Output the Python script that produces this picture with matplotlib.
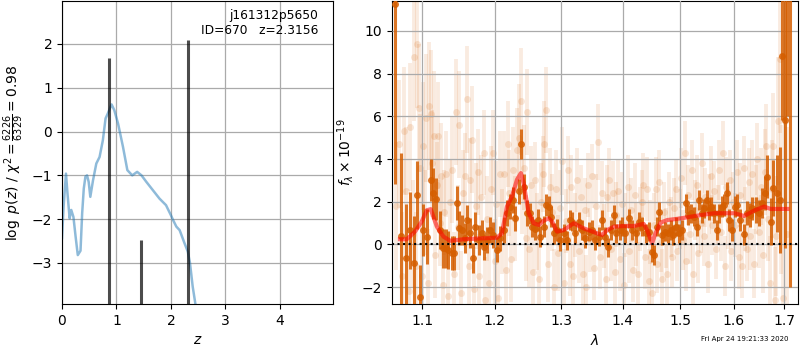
import numpy as np
import matplotlib
matplotlib.use("Agg")
import matplotlib.pyplot as plt

# ---------------- left panel: redshift PDF ----------------
z_curve = [0.0, 0.03, 0.073, 0.10, 0.14, 0.17, 0.21, 0.25, 0.29, 0.34, 0.37, 0.40, 0.43, 0.46,
           0.49, 0.52, 0.57, 0.63, 0.69, 0.75, 0.80, 0.84, 0.91, 0.96, 1.03, 1.12, 1.20, 1.29,
           1.38, 1.46, 1.55, 1.67, 1.79, 1.91, 2.00, 2.04, 2.10, 2.16, 2.25, 2.31, 2.35, 2.40,
           2.45, 2.50, 2.60]
logp_curve = [-2.43, -1.70, -0.96, -1.40, -1.98, -1.79, -1.95, -2.40, -2.82, -2.72, -1.87, -1.30,
              -1.03, -1.00, -1.15, -1.49, -1.11, -0.73, -0.58, -0.20, 0.30, 0.41, 0.62, 0.49,
              0.18, -0.35, -0.88, -1.00, -0.92, -1.00, -1.15, -1.34, -1.53, -1.68, -1.91, -2.02,
              -2.17, -2.25, -2.55, -2.74, -3.00, -3.54, -3.94, -4.40, -5.50]
spike_z = [0.868, 1.456, 2.305]
spike_top = [1.68, -2.48, 2.08]

# ---------------- right panel: spectrum ----------------
bin_wave = [1.0648, 1.0717, 1.0786, 1.0838, 1.0890, 1.0934, 1.0969, 1.1013, 1.1058, 1.1115,
            1.1147, 1.1182, 1.1237, 1.1273, 1.1314, 1.1350, 1.1396, 1.1428, 1.1465, 1.1501,
            1.1534, 1.1580, 1.1613, 1.1650, 1.1688, 1.1725, 1.1768, 1.1815, 1.1849, 1.1887,
            1.1934, 1.1982, 1.2031, 1.2079, 1.2128, 1.2177, 1.2226, 1.2266, 1.2300, 1.2350,
            1.2389, 1.2424, 1.2474, 1.2514, 1.2549, 1.2590, 1.2635, 1.2676, 1.2727, 1.2768,
            1.2804, 1.2840, 1.2881, 1.2933, 1.2985, 1.3037, 1.3090, 1.3132, 1.3169, 1.3222,
            1.3275, 1.3329, 1.3382, 1.3436, 1.3490, 1.3545, 1.3599, 1.3654, 1.3709, 1.3753,
            1.3809, 1.3848, 1.3892, 1.3948, 1.3993, 1.4043, 1.4100, 1.4157, 1.4214, 1.4271,
            1.4328, 1.4386, 1.4444, 1.4490, 1.4531, 1.4578, 1.4619, 1.4678, 1.4725, 1.4778,
            1.4826, 1.4873, 1.4927, 1.4975, 1.5036, 1.5096, 1.5139, 1.5187, 1.5249, 1.5298,
            1.5341, 1.5390, 1.5434, 1.5483, 1.5527, 1.5570, 1.5621, 1.5671, 1.5715, 1.5765,
            1.5810, 1.5861, 1.5905, 1.5957, 1.6014, 1.6066, 1.6118, 1.6195, 1.6261, 1.6313,
            1.6359, 1.6425, 1.6491, 1.6557, 1.6610, 1.6657, 1.6724, 1.6778, 1.6845, 1.6913,
            1.6947, 1.7009, 1.7060, 1.7120]
bin_flux = [11.25, 0.39, -0.63, 0.67, -0.85, 2.32, -2.46, 0.67, 0.36, 3.02,
            2.40, 2.12, 0.67, -0.19, -0.19, -0.27, -0.42, -0.39, 1.93, 0.75,
            0.67, 0.28, 1.14, 0.52, -0.63, 0.83, 0.20, 0.52, -0.11, 0.20,
            0.67, 0.44, -0.24, 0.28, 0.67, 1.46, 1.77, 2.08, 1.22, 2.48,
            4.72, 2.71, 1.46, 1.46, 0.83, 0.71, 1.14, 0.36, 0.83, 1.85,
            1.77, 1.30, 0.52, 0.67, 0.20, 0.52, 0.20, 1.14, 1.07, 0.52,
            1.07, 0.67, 0.28, 0.60, 0.67, 0.20, 0.36, 1.14, 0.36, -0.14,
            0.67, 1.38, 0.52, 0.67, 0.83, 0.52, 1.22, 0.67, 0.52, 1.07,
            0.83, 0.52, 0.60, -0.38, -0.50, 0.83, 1.54, 0.44, 0.60, 0.52,
            0.67, 0.44, 0.83, 0.52, 0.67, 1.93, 1.38, 1.46, 1.30, 0.83,
            2.08, 1.46, 1.69, 2.08, 1.61, 1.77, 1.46, 0.67, 1.46, 1.77,
            1.85, 2.40, 1.14, 0.67, 1.77, 1.85, 1.14, 0.47, 1.46, 1.38,
            1.69, 1.61, 1.46, 1.93, 2.40, 3.18, 1.07, 2.63, 2.40, 2.08,
            8.82, 5.85, 14.0, 12.0]
bin_err = [8.4, 3.9, 2.5, 1.8, 2.2, 1.6, 1.5, 1.2, 1.3, 1.0,
           1.2, 1.0, 0.9, 0.9, 0.9, 0.9, 0.8, 0.8, 0.8, 0.8,
           0.7, 0.7, 0.7, 0.7, 0.7, 0.7, 0.7, 0.6, 0.6, 0.6,
           0.6, 0.6, 0.6, 0.6, 0.6, 0.6, 0.6, 0.6, 0.6, 0.6,
           0.7, 0.6, 0.6, 0.5, 0.5, 0.5, 0.5, 0.5, 0.5, 0.5,
           0.5, 0.5, 0.5, 0.5, 0.5, 0.45, 0.45, 0.45, 0.45, 0.45,
           0.45, 0.45, 0.45, 0.45, 0.45, 0.45, 0.45, 0.45, 0.45, 0.45,
           0.45, 0.45, 0.45, 0.45, 0.45, 0.45, 0.45, 0.45, 0.45, 0.45,
           0.45, 0.45, 0.45, 0.45, 0.45, 0.45, 0.45, 0.45, 0.45, 0.45,
           0.45, 0.45, 0.45, 0.45, 0.45, 0.45, 0.45, 0.45, 0.45, 0.45,
           0.45, 0.45, 0.45, 0.45, 0.45, 0.45, 0.45, 0.45, 0.45, 0.5,
           0.5, 0.5, 0.5, 0.5, 0.5, 0.5, 0.5, 0.5, 0.55, 0.55,
           0.55, 0.6, 0.6, 0.7, 0.8, 1.0, 1.1, 1.3, 1.8, 2.5,
           3.0, 6.0, 8.0, 14.0]

raw_wave = [1.066, 1.070, 1.073, 1.076, 1.079, 1.082, 1.084, 1.087, 1.089, 1.091,
            1.093, 1.095, 1.097, 1.099, 1.101, 1.103, 1.105, 1.107, 1.109, 1.111,
            1.113, 1.115, 1.117, 1.119, 1.121, 1.123, 1.125, 1.127, 1.129,
            1.132, 1.135, 1.137, 1.140, 1.143, 1.145, 1.148, 1.150, 1.152, 1.155,
            1.158, 1.160, 1.163, 1.165, 1.168, 1.170, 1.173, 1.176, 1.178, 1.181,
            1.184, 1.186, 1.189, 1.192, 1.195, 1.197, 1.200, 1.202, 1.205, 1.208,
            1.211, 1.214, 1.216, 1.219, 1.221, 1.224, 1.227, 1.230, 1.232, 1.235,
            1.238, 1.240, 1.243, 1.246, 1.248, 1.251, 1.254, 1.257, 1.260, 1.263,
            1.265, 1.268, 1.271, 1.274, 1.277, 1.280, 1.283, 1.286, 1.289, 1.292,
            1.295, 1.298,
            1.301, 1.304, 1.307, 1.310, 1.313, 1.316, 1.319, 1.322, 1.325, 1.328,
            1.331, 1.334, 1.337, 1.340, 1.343, 1.346, 1.349, 1.352, 1.356, 1.359,
            1.362, 1.365, 1.368, 1.371, 1.374, 1.377, 1.380, 1.383, 1.386, 1.389,
            1.392, 1.395, 1.398, 1.401, 1.404, 1.408, 1.411, 1.414, 1.417, 1.420,
            1.423, 1.426, 1.429, 1.432, 1.435, 1.438, 1.441, 1.444, 1.447, 1.450,
            1.453,
            1.456, 1.459, 1.462, 1.465, 1.468, 1.471, 1.474, 1.477, 1.480, 1.483,
            1.486, 1.489, 1.492, 1.495, 1.499, 1.502, 1.505, 1.508, 1.511, 1.514,
            1.517, 1.521, 1.524, 1.527, 1.530, 1.533, 1.537, 1.540, 1.543, 1.546,
            1.550, 1.553, 1.556, 1.559, 1.563, 1.566, 1.569, 1.572, 1.575, 1.579,
            1.582, 1.585, 1.588, 1.592, 1.595, 1.598,
            1.602, 1.605, 1.609, 1.612, 1.615, 1.619, 1.622, 1.625, 1.629, 1.632,
            1.636, 1.639, 1.643, 1.646, 1.649, 1.653, 1.656, 1.660, 1.663, 1.667,
            1.670, 1.674, 1.677, 1.681, 1.684, 1.688, 1.691, 1.694, 1.698, 1.701,
            1.705]
raw_flux = [1.8, 4.7, -1.5, 5.3, 2.5, -2.2, 5.5, 0.5, 8.8, -1.0,
            9.4, 6.4, 3.6, -1.5, 4.6, 1.5, 5.9, -1.8, 6.5, 6.1,
            3.8, 5.1, -0.5, 2.8, 5.1, 1.0, 3.2, -1.9, 1.5,
            3.3, -2.4, 2.0, 3.5, -1.4, 6.2, 0.8, 5.6, -2.3, 2.4,
            3.2, 6.8, -1.0, 3.0, 4.9, -2.1, 1.8, 3.4, -1.5, 2.2,
            4.3, -2.6, 1.2, -1.8, 2.6, 4.3, -0.8, 1.9, -2.5, 3.3,
            0.6, 3.3, -1.2, 4.7, 2.4, -0.7, 3.5, 1.2, 4.4, 5.0,
            6.7, 2.5, 3.6, 0.3, 6.2, -0.2, 2.8, -1.3, 3.0, 0.6,
            -1.6, 2.0, 3.3, 4.7, 6.3, -0.9, 2.7, 1.5, -2.0, 2.6,
            -0.4, 1.7,
            3.9, -1.8, 1.1, 3.5, -0.9, 2.7, -1.5, 0.9, 3.0, -0.3,
            2.2, -1.4, 1.6, -2.0, 2.8, 0.2, 3.2, -1.1, 1.8, 4.8,
            -0.6, 2.4, 0.4, -1.6, 2.2, 3.0, -0.2, 2.4, -1.3, 1.4,
            2.5, -0.7, 1.9, -1.9, 0.9, 2.7, -0.3, 1.6, -1.2, 2.3,
            0.5, -1.4, 1.2, 2.0, 2.8, -0.6, 2.6, -1.7, 0.6, -2.3,
            0.9,
            2.6, -0.9, 2.9, 0.1, -1.6, 1.5, 0.3, -1.4, 2.0, 0.8,
            -0.6, 1.7, 2.6, -0.3, 1.2, 3.1, 0.2, 4.3, -0.8, 2.3,
            0.5, 3.5, -1.4, 1.6, 2.8, -0.4, 1.0, 3.8, 0.4, 2.2,
            -0.9, 1.9, 3.2, 0.9, 2.5, -0.2, 1.4, 3.5, 0.6, 4.3,
            -1.0, 2.7, 1.2, 3.0, -0.3, 2.0,
            0.9, 3.4, -0.6, 2.3, -1.0, 3.6, 1.2, -0.2, 2.9, 0.4,
            3.3, -0.9, 2.1, 4.0, 0.6, 2.7, -0.5, 3.4, 4.6, 1.2,
            -1.8, 2.6, 4.6, -2.6, 0.4, 5.8, 8.7, 2.1, -2.5, 5.8,
            0.5]
raw_err = [3.0, 3.0, 3.0, 3.0, 3.0, 2.5, 3.0, 2.5, 3.0, 2.5,
           3.0, 3.0, 2.5, 2.5, 3.0, 2.0, 3.0, 2.5, 3.0, 3.0,
           2.5, 3.0, 2.0, 2.0, 2.5, 2.0, 2.5, 2.0, 2.0,
           2.0, 2.0, 2.0, 2.5, 2.0, 2.5, 2.0, 2.5, 2.0, 2.0,
           2.0, 2.5, 2.0, 2.0, 2.5, 2.0, 2.0, 2.0, 2.0, 2.0,
           2.0, 2.0, 2.0, 2.0, 2.0, 2.0, 2.0, 2.0, 2.0, 2.0,
           2.0, 2.0, 2.0, 2.0, 2.0, 2.0, 2.0, 2.0, 2.0, 2.5,
           2.5, 2.0, 2.0, 2.0, 2.0, 1.8, 1.8, 1.8, 1.8, 1.8,
           1.8, 1.8, 1.8, 2.0, 2.0, 1.8, 1.8, 1.8, 1.8, 1.8,
           1.8, 1.8,
           1.6, 1.6, 1.5, 1.6, 1.5, 1.5, 1.5, 1.5, 1.5, 1.5,
           1.5, 1.5, 1.5, 1.5, 1.5, 1.5, 1.5, 1.5, 1.5, 1.8,
           1.5, 1.5, 1.5, 1.5, 1.5, 1.5, 1.5, 1.5, 1.5, 1.5,
           1.5, 1.5, 1.5, 1.5, 1.5, 1.5, 1.5, 1.5, 1.5, 1.5,
           1.5, 1.5, 1.5, 1.5, 1.5, 1.5, 1.5, 1.5, 1.5, 1.5,
           1.5,
           1.5, 1.4, 1.5, 1.4, 1.4, 1.4, 1.4, 1.4, 1.4, 1.4,
           1.4, 1.4, 1.4, 1.4, 1.4, 1.4, 1.4, 1.5, 1.4, 1.4,
           1.4, 1.4, 1.4, 1.4, 1.4, 1.4, 1.4, 1.4, 1.4, 1.4,
           1.4, 1.4, 1.4, 1.4, 1.4, 1.4, 1.4, 1.4, 1.4, 1.5,
           1.4, 1.4, 1.4, 1.4, 1.4, 1.4,
           1.5, 1.5, 1.5, 1.5, 1.5, 1.5, 1.5, 1.5, 1.6, 1.6,
           1.6, 1.6, 1.6, 1.7, 1.7, 1.8, 1.8, 2.0, 2.0, 2.0,
           2.2, 2.3, 2.5, 2.5, 2.8, 3.0, 3.5, 3.5, 4.0, 4.0,
           5.0]

model_wave = [1.0707, 1.0795, 1.0903, 1.0991, 1.1058, 1.1111, 1.1193, 1.1283, 1.1374, 1.1559,
              1.1796, 1.2031, 1.2104, 1.2177, 1.2251, 1.2325, 1.2384, 1.2424, 1.2500, 1.2576,
              1.2652, 1.2727, 1.2804, 1.2856, 1.2933, 1.3037, 1.3196, 1.3356, 1.3572, 1.3654,
              1.3737, 1.3848, 1.4015, 1.4184, 1.4355, 1.4413, 1.4500, 1.4559, 1.4648, 1.4767,
              1.5015, 1.5315, 1.5621, 1.6014, 1.6195, 1.6392, 1.6591, 1.6724, 1.6859, 1.7063]
model_flux = [0.24, 0.24, 0.60, 1.07, 1.60, 1.65, 0.83, 0.36, 0.17, 0.24,
              0.28, 0.31, 0.52, 1.77, 2.24, 3.03, 3.34, 2.87, 1.46, 0.99,
              0.91, 1.11, 1.22, 1.07, 0.60, 0.67, 0.99, 0.75, 0.52, 0.44,
              0.67, 0.83, 0.86, 0.86, 0.96, 0.67, 0.05, 0.52, 1.02, 1.14,
              1.22, 1.35, 1.46, 1.46, 1.33, 1.58, 1.77, 1.66, 1.66, 1.66]

lam_ticks = [1.1, 1.2, 1.3, 1.4, 1.5, 1.6, 1.7]
lam_ticklabels = ["1.1", "1.2", "1.3", "1.4", "1.5", "1.6", "1.7"]

G141 = (0.8353, 0.3686, 0.0)
GRID = '#aaaaaa'

fig = plt.figure(figsize=(8, 3.5), dpi=100)
ax1 = fig.add_axes([0.0775, 0.131, 0.339, 0.866])
ax2 = fig.add_axes([0.4895, 0.131, 0.5085, 0.866])

# left
ax1.plot(z_curve, logp_curve, color='tab:blue', alpha=0.5, lw=1.8)
ax1.vlines(spike_z, -10, spike_top, color='k', alpha=0.7, lw=2.2)
ax1.set_xlim(0, 4.98)
ax1.set_ylim(-3.94, 2.98)
ax1.set_xticks([0, 1, 2, 3, 4])
ax1.set_yticks([-3, -2, -1, 0, 1, 2])
ax1.grid(color=GRID, lw=0.9)
ax1.set_xlabel('$z$')
ax1.set_ylabel(r'$\log\ p(z)$ / $\chi^2=\frac{6226}{6329}=0.98$')
ax1.text(0.945, 0.975, 'j161312p5650\nID=670   z=2.3156', transform=ax1.transAxes,
         ha='right', va='top', fontsize=8.8)

# right
ax2.errorbar(raw_wave, raw_flux, yerr=raw_err, fmt='none', ecolor=G141, alpha=0.12,
             elinewidth=2.8, zorder=1)
ax2.plot(raw_wave, raw_flux, 'o', color=G141, alpha=0.15, ms=5, mec='none', zorder=1)
ax2.errorbar(bin_wave, bin_flux, yerr=bin_err, fmt='o', color=G141, alpha=0.85,
             ms=5, mec='none', elinewidth=2.2, capsize=0, zorder=3)
ax2.plot(model_wave, model_flux, color='r', alpha=0.55, lw=3, zorder=4)
ax2.axhline(0, color='k', linestyle=':', lw=1.5, zorder=5)
ax2.set_xscale('log')
ax2.set_xlim(1.060, 1.729)
ax2.set_ylim(-2.8, 11.4)
ax2.set_xticks(lam_ticks)
ax2.set_xticklabels(lam_ticklabels)
ax2.xaxis.set_minor_locator(matplotlib.ticker.NullLocator())
ax2.set_yticks([-2, 0, 2, 4, 6, 8, 10])
ax2.set_axisbelow(False)
ax2.grid(color=GRID, lw=0.9, zorder=2)
ax2.set_xlabel(r'$\lambda$')
ax2.set_ylabel(r'$f_\lambda\times 10^{-19}$')

fig.text(0.9306, 0.031, 'Fri Apr 24 19:21:33 2020', fontsize=5, ha='center', va='center')

fig.savefig('out.png', dpi=100)
